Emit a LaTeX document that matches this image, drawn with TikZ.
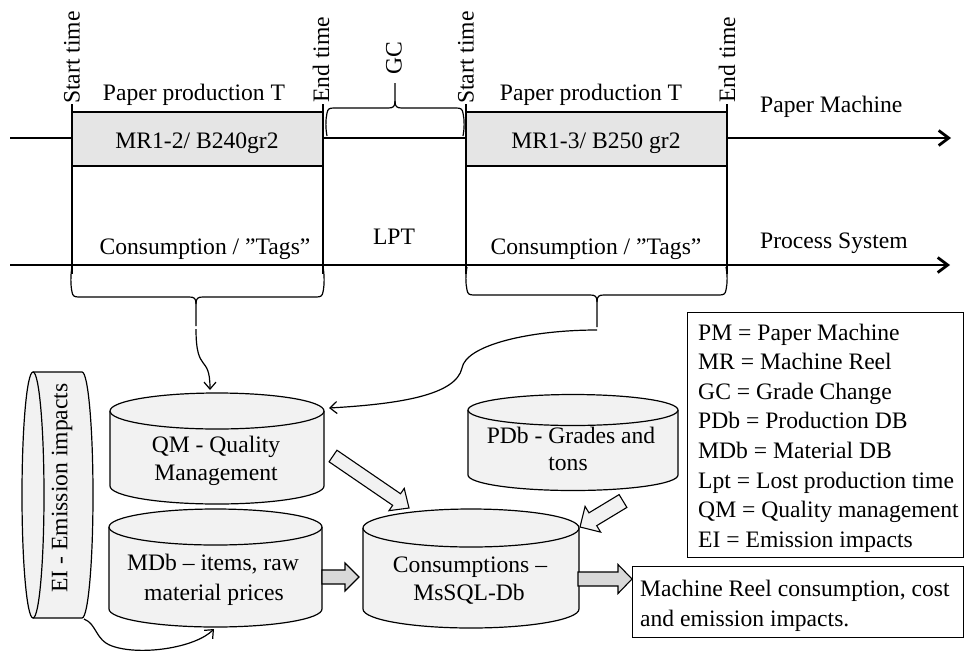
\documentclass[tikz,border=0pt]{standalone}
\usepackage{fontspec}
\setmainfont{Liberation Serif}
\usetikzlibrary{arrows.meta,calc}
\definecolor{cylgray}{gray}{0.95}
\definecolor{boxgray}{gray}{0.9}
\definecolor{arrgray}{gray}{0.85}
\definecolor{arrlight}{gray}{0.95}
\newcommand\fs{\fontsize{23.6}{29.6}\selectfont}
\tikzset{
  tl/.style={line width=2.8pt},
  thinln/.style={line width=1.2pt},
  cyl/.style={line width=1.2pt, fill=cylgray},
  conn/.style={line width=1.2pt, -{Straight Barb[length=7pt,width=12pt]}},
  bigtip/.style={-{Straight Barb[length=10pt,width=15pt]}},
  framebox/.style={draw, line width=1.3pt, inner sep=0},
}
% vertical cylinder: name, cx, rx, y top centre, y bottom centre, ry
\newcommand\vcyl[6]{%
  \draw[cyl] ({#2-#3},#4) -- ({#2-#3},#5)
    .. controls ({#2-#3},{#5+0.5523*#6}) and ({#2-0.5523*#3},{#5+#6}) .. (#2,{#5+#6})
    .. controls ({#2+0.5523*#3},{#5+#6}) and ({#2+#3},{#5+0.5523*#6}) .. ({#2+#3},#5)
    -- ({#2+#3},#4);
  \draw[cyl] (#2,#4) ellipse [x radius=#3, y radius=#6];
  \node[inner sep=0, minimum width={2*#3}, minimum height={#5-#4+2*#6}] (#1) at (#2,{(#4+#5)/2}) {};
}
% curly brace: xl, xr, y0, yh, xm, ytip, direction
\newcommand\brc[7]{%
  \draw[thinln] (#1,#3) .. controls ({#1-1.5},{#3+(#7)*8}) and ({#1-1.5},{#4-(#7)*12}) .. (#1,{#4-(#7)*5})
    .. controls ({#1+0.8},{#4-(#7)*1}) and ({#1+2},#4) .. ({#1+7},#4) -- ({#5-7},#4)
    .. controls ({#5-2},#4) and (#5,{#4+(#7)*1}) .. (#5,{#4+(#7)*7}) -- (#5,#6);
  \draw[thinln] (#2,#3) .. controls ({#2+1.5},{#3+(#7)*8}) and ({#2+1.5},{#4-(#7)*12}) .. (#2,{#4-(#7)*5})
    .. controls ({#2-0.8},{#4-(#7)*1}) and ({#2-2},#4) .. ({#2-7},#4) -- ({#5+7},#4)
    .. controls ({#5+2},#4) and (#5,{#4+(#7)*1}) .. (#5,{#4+(#7)*7});
}
% block arrow: start, end, shaft half width, head half width, head length, fill
\newcommand\barrow[6]{%
  \draw[fill=#6, line width=1.1pt] let \p1=($(#2)-(#1)$), \n1={veclen(\x1,\y1)}, \n2={atan2(\y1,\x1)} in
    ($(#1)+(\n2+90:#3pt)$) -- ++(\n2:\n1-#5pt) -- ++(\n2+90:#4pt-#3pt) -- (#2)
    -- ($(#1)+(\n2:\n1-#5pt)+(\n2-90:#4pt)$) -- ++(\n2+90:#4pt-#3pt)
    -- ($(#1)+(\n2-90:#3pt)$) -- cycle;
}
\begin{document}
\begin{tikzpicture}[x=1pt,y=-1pt, every node/.style={inner sep=0, font=\fs}]
\useasboundingbox (0,0) rectangle (965,651);
\fill[white] (0,0) rectangle (965,651);

% ---- time lines
\coordinate (pmL) at (10,138); \coordinate (pmR) at (951,138);
\coordinate (psL) at (10,265); \coordinate (psR) at (950,265);
\draw[tl, bigtip] (pmL) -- (pmR);
\draw[tl, bigtip] (psL) -- (psR);

% ---- production boxes
\node[framebox, fill=boxgray, minimum width=251, minimum height=54] (box1) at (197.5,139) {};
\node[framebox, fill=boxgray, minimum width=261, minimum height=54] (box2) at (596.5,139) {};
\node[anchor=base] (box1t) at (197,148) {MR1-2/ B240gr2};
\node[anchor=base] (box2t) at (596,148) {MR1-3/ B250 gr2};

% ---- time marks
\foreach \n/\x in {s1/72, e1/323, s2/466, e2/727}{
  \coordinate (\n t) at (\x,104);
  \coordinate (\n b) at (\x,274);
  \draw[tl] (\n t) -- (\n b);
}
\node[rotate=90, anchor=west] (st1) at (72,104) {Start time};
\node[rotate=90, anchor=west] (et1) at (321,103) {End time};
\node[rotate=90, anchor=west] (st2) at (466,104) {Start time};
\node[rotate=90, anchor=west] (et2) at (727,103) {End time};
\node[rotate=90, anchor=west] (gc) at (394,75) {GC};

\node[anchor=base] (ppt1) at (194,100) {Paper production T};
\node[anchor=base] (ppt2) at (591,100) {Paper production T};
\node[anchor=base west] (pmlab) at (760,112) {Paper Machine};
\node[anchor=base] (tags1) at (205,254) {Consumption / ”Tags”};
\node[anchor=base] (tags2) at (596,254) {Consumption / ”Tags”};
\node[anchor=base] (lpt) at (394,244) {LPT};
\node[anchor=base west] (pslab) at (760,248) {Process System};

% ---- braces
\brc{327}{463}{136}{108}{395}{83}{-1}
\brc{72}{323}{267}{297}{196}{326}{1}
\brc{467}{726}{267}{295}{597}{327}{1}
\coordinate (b1tip) at (196,329);
\coordinate (b2tip) at (597,330);

% ---- databases
\vcyl{qm}{217}{107}{411}{486}{18}
\vcyl{mdb}{215.5}{106.5}{527}{609}{18}
\vcyl{cdb}{471}{108}{528}{609}{19}
\vcyl{pdb}{573}{105}{410}{475}{15.5}

\node[anchor=base] (qm1) at (216,452) {QM - Quality};
\node[anchor=base] (qm2) at (216,480) {Management};
\node[anchor=base] (md1) at (213,570) {MDb – items, raw};
\node[anchor=base] (md2) at (214,600) {material prices};
\node[anchor=base] (cd1) at (470,572) {Consumptions –};
\node[anchor=base] (cd2) at (469,600) {MsSQL-Db};
\node[anchor=base] (pd1) at (571,443) {PDb - Grades and};
\node[anchor=base] (pd2) at (568,470) {tons};

% ---- EI cylinder (lying)
\draw[cyl] (33,372) -- (82,372)
  .. controls ({82+0.5523*11},372) and (93,{495-0.5523*123}) .. (93,495)
  .. controls (93,{495+0.5523*123}) and ({82+0.5523*11},618) .. (82,618) -- (33,618);
\draw[cyl] (33,495) ellipse [x radius=11, y radius=123];
\node[inner sep=0, minimum width=71, minimum height=246] (ei) at (57.5,495) {};
\node[rotate=90] (eit) at (62,488) {EI - Emission impacts};

% ---- thin connectors
\coordinate (qmtop) at (210,390);
\coordinate (qmright) at (329,408);
\coordinate (eiout) at (84,619);
\coordinate (mdbot) at (214,629);
\draw[conn] (b1tip) .. controls +(0,46) and +(0,-37) .. (qmtop);
\draw[conn] (b2tip) .. controls (530,330) and (466,345) .. (462,368)
  .. controls (456,395) and (400,404) .. (qmright);
\draw[conn] (eiout) .. controls (97,624) and (95,640) .. (112,646)
  .. controls (140,656) and (195,648) .. (mdbot);

% ---- legend and result
\node[framebox, anchor=north west, minimum width=275.5, minimum height=245] (leg) at (687,312) {};
\foreach \t [count=\i] in {PM = Paper Machine, MR = Machine Reel, GC = Grade Change,
  PDb = Production DB, MDb = Material DB, Lpt = Lost production time,
  QM = Quality management, EI = Emission impacts}{
  \node[anchor=base west] (leg\i) at (698,{340+29.6*(\i-1)}) {\t};
}
\node[framebox, anchor=north west, minimum width=330.5, minimum height=71] (out) at (632,566) {};
\node[anchor=base west] (out1) at (640,596) {Machine Reel consumption, cost};
\node[anchor=base west] (out2) at (640,626) {and emission impacts.};

% ---- block arrows
\coordinate (a1s) at (333,456); \coordinate (a1e) at (409,508);
\coordinate (a2s) at (322,577); \coordinate (a2e) at (359,577);
\coordinate (a3s) at (623,501); \coordinate (a3e) at (580,527);
\coordinate (a4s) at (578,579); \coordinate (a4e) at (632,579);
\barrow{a1s}{a1e}{7}{13.5}{15}{arrlight}
\barrow{a2s}{a2e}{7}{14}{14}{arrgray}
\barrow{a3s}{a3e}{7.5}{15}{15}{arrlight}
\barrow{a4s}{a4e}{7}{14.5}{14}{arrgray}
\end{tikzpicture}
\end{document}
